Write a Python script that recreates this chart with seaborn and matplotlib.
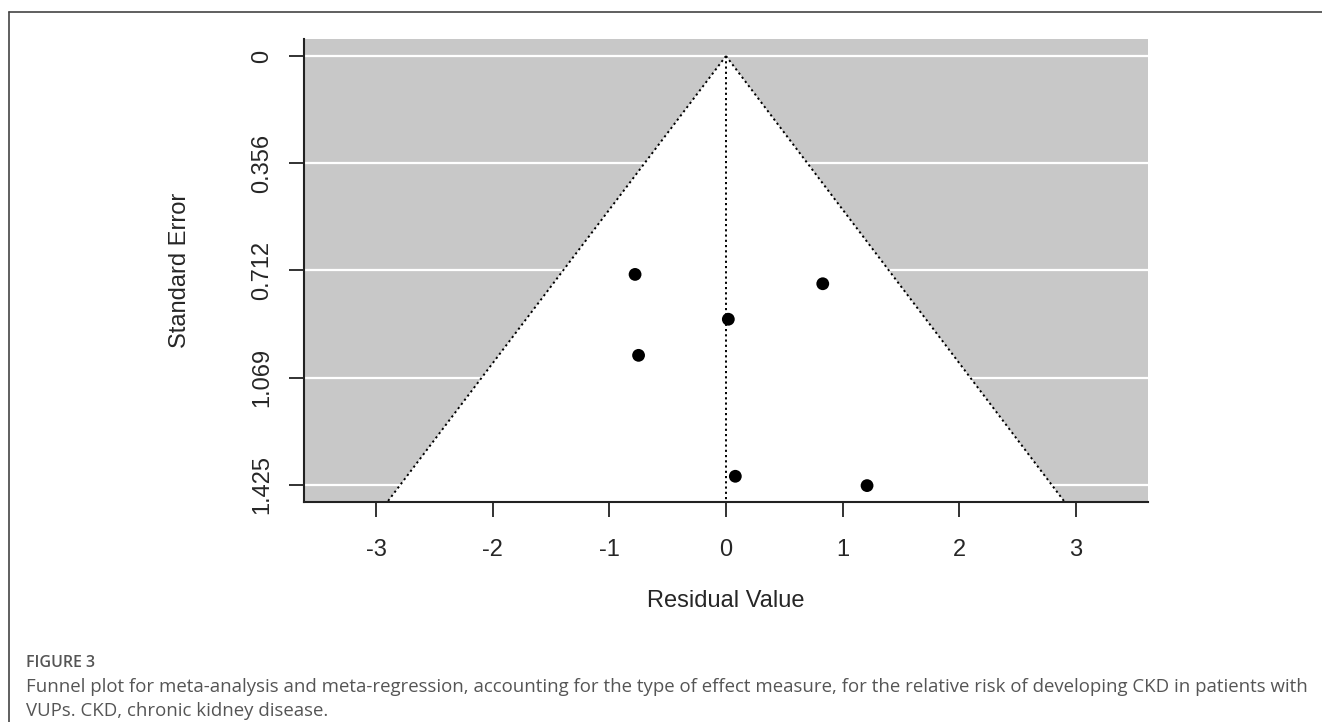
import numpy as np
import pandas as pd
import matplotlib
matplotlib.use("Agg")
import matplotlib.pyplot as plt
import seaborn as sns
from matplotlib.lines import Line2D

# residuals and standard errors
residual = [-0.78, 0.83, 0.02, -0.75, 0.08, 1.21]
std_err = [0.726, 0.757, 0.875, 0.995, 1.397, 1.428]
se_ticks = [0, 0.356, 0.712, 1.069, 1.425]
x_ticks = [-3, -2, -1, 0, 1, 2, 3]
se_max = 1.4825
x_lim = 3.62

caption_head = "FIGURE 3"
caption = ("Funnel plot for meta-analysis and meta-regression, accounting for the type of effect measure, "
           "for the relative risk of developing CKD in patients with\nVUPs. CKD, chronic kidney disease.")

df = pd.DataFrame({"res": residual, "se": std_err})

sns.set_style("white")
plt.rcParams["font.family"] = ["Liberation Sans", "DejaVu Sans"]

W, H = 1322, 722
fig = plt.figure(figsize=(W / 100, H / 100), dpi=100)
ax = fig.add_axes([304 / W, 1 - 502 / H, (1148 - 304) / W, (502 - 39) / H])
ax.set_facecolor("#c8c8c8")

# funnel region (pseudo 95% limits)
se_line = np.array([0, se_max])
lo, hi = -1.96 * se_line, 1.96 * se_line
ax.fill([lo[0], lo[1], hi[1]], [se_line[0], se_line[1], se_line[1]], color="white", zorder=1, lw=0)

for t in se_ticks:
    ax.axhline(t, color="white", lw=1.6, zorder=0.5)

dots = (0, (1.1, 1.6))
ax.plot(lo, se_line, ls=dots, color="black", lw=1.4, zorder=2)
ax.plot(hi, se_line, ls=dots, color="black", lw=1.4, zorder=2)
ax.plot([0, 0], se_line, ls=dots, color="black", lw=1.4, zorder=2)

sns.scatterplot(data=df, x="res", y="se", ax=ax, color="black", s=85, edgecolor="none", zorder=3)

ax.set_xlim(-x_lim, x_lim)
ax.set_ylim(se_max, -0.0565)
ax.set_xticks(x_ticks)
ax.set_xticklabels([str(v) for v in x_ticks])
ax.set_yticks(se_ticks)
ax.set_yticklabels(["0", "0.356", "0.712", "1.069", "1.425"], rotation=90, va="center")
ax.tick_params(axis="both", direction="out", length=11, width=1.3, color="#222222",
               labelsize=17, left=True, bottom=True)
ax.tick_params(axis="x", pad=16)
ax.tick_params(axis="y", pad=11)
for s in ["top", "right"]:
    ax.spines[s].set_visible(False)
for s in ["left", "bottom"]:
    ax.spines[s].set_linewidth(1.5)
    ax.spines[s].set_color("#222222")
ax.set_xlabel("Residual Value", fontsize=17, labelpad=0)
ax.set_ylabel("Standard Error", fontsize=17, labelpad=0)
ax.xaxis.set_label_coords((726 - 304) / (1148 - 304), -(601 - 502) / (502 - 39))
ax.yaxis.set_label_coords(-(304 - 180) / (1148 - 304), (502 - 270) / (502 - 39))
ax.xaxis.label.set_va("center")
ax.yaxis.label.set_va("center")

# frame around the figure
fig.add_artist(Line2D([9 / W, 9 / W], [0, 1 - 12 / H], color="#444444", lw=1.2))
fig.add_artist(Line2D([9 / W, 1], [1 - 12 / H, 1 - 12 / H], color="#444444", lw=1.2))

fig.text(26 / W, 1 - 663 / H, caption_head, family=["Open Sans", "DejaVu Sans"], fontsize=11.5,
         fontweight="semibold", color="#555555", va="center")
fig.text(26 / W, 1 - 699 / H, caption, family=["Open Sans", "DejaVu Sans"], fontsize=13.45,
         color="#555555", va="center", linespacing=1.5)

fig.savefig("out.png", dpi=100)
